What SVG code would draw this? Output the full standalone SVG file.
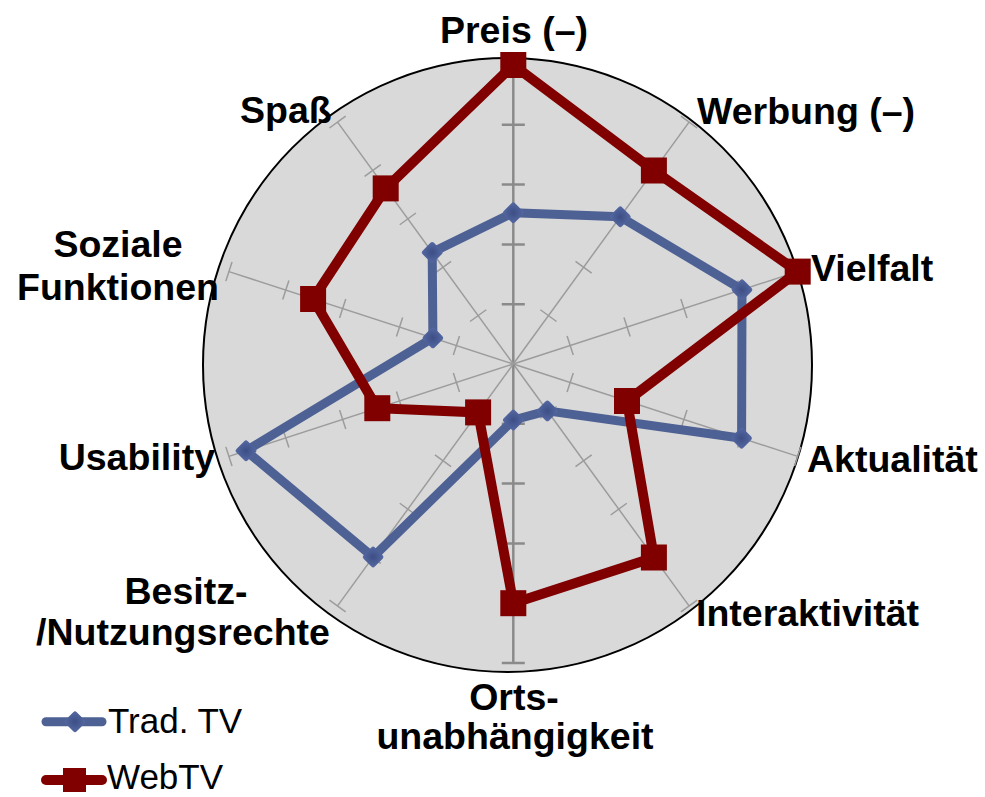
<svg xmlns="http://www.w3.org/2000/svg" xmlns:xlink="http://www.w3.org/1999/xlink" width="985" height="797" viewBox="0 0 985 797">
<style>
.lbl{font-family:"Liberation Sans",Arial,sans-serif;font-weight:bold;font-size:37.5px;fill:#000}
.leg{font-family:"Liberation Sans",Arial,sans-serif;font-size:35px;fill:#000}
.ax{stroke:#9c9c9c;stroke-width:1.5;fill:none}
.vax{stroke:#8a8a8a;stroke-width:2.5;fill:none}
.trad{fill:none;stroke:#4E6194;stroke-width:9;stroke-linejoin:round;stroke-linecap:round}
.web{fill:none;stroke:#800000;stroke-width:10;stroke-linejoin:miter}
</style>
<defs>
<radialGradient id="dg" cx="50%" cy="50%" r="60%">
<stop offset="0" stop-color="#3c4e84"/>
<stop offset="1" stop-color="#5466a0"/>
</radialGradient>
<g id="axis">
<line class="ax" x1="0" y1="0" x2="0" y2="-299"/>
<path class="ax" d="M-10,-59.8H10M-10,-119.6H10M-10,-179.4H10M-10,-239.2H10M-10,-299H10"/>
</g>
<g id="vaxis">
<line class="vax" x1="0" y1="0" x2="0" y2="-299"/>
<path class="vax" d="M-11.5,-59.8H11.5M-11.5,-119.6H11.5M-11.5,-179.4H11.5M-11.5,-239.2H11.5M-11.5,-299H11.5"/>
</g>
<rect id="dia" x="-8" y="-8" width="16" height="16" rx="2.5" transform="rotate(45)" fill="url(#dg)"/>
<rect id="sq" x="-13" y="-13" width="26" height="26" fill="#800000"/>
</defs>

<g id="background">
<ellipse cx="507.5" cy="365" rx="304.5" ry="307" fill="#d9d9d9" stroke="#000" stroke-width="2"/>
</g>

<g id="axes">
<use xlink:href="#vaxis" transform="translate(513.3 364)"/>
<use xlink:href="#axis" transform="translate(513.3 364) rotate(36)"/>
<use xlink:href="#axis" transform="translate(513.3 364) rotate(72)"/>
<use xlink:href="#axis" transform="translate(513.3 364) rotate(108)"/>
<use xlink:href="#axis" transform="translate(513.3 364) rotate(144)"/>
<use xlink:href="#vaxis" transform="translate(513.3 364) rotate(180)"/>
<use xlink:href="#axis" transform="translate(513.3 364) rotate(216)"/>
<use xlink:href="#axis" transform="translate(513.3 364) rotate(252)"/>
<use xlink:href="#axis" transform="translate(513.3 364) rotate(288)"/>
<use xlink:href="#axis" transform="translate(513.3 364) rotate(324)"/>
</g>

<g id="series-trad-tv">
<polygon class="trad" points="513.3,212.7 620.3,216.8 742,289.7 741.6,438.2 547.4,410.9 513.3,420 373.1,557 246,450.8 432.9,337.9 432.2,252.4"/>
<use xlink:href="#dia" x="513.3" y="212.7"/>
<use xlink:href="#dia" x="620.3" y="216.8"/>
<use xlink:href="#dia" x="742" y="289.7"/>
<use xlink:href="#dia" x="741.6" y="438.2"/>
<use xlink:href="#dia" x="547.4" y="410.9"/>
<use xlink:href="#dia" x="513.3" y="420"/>
<use xlink:href="#dia" x="373.1" y="557"/>
<use xlink:href="#dia" x="246" y="450.8"/>
<use xlink:href="#dia" x="432.9" y="337.9"/>
<use xlink:href="#dia" x="432.2" y="252.4"/>
</g>

<g id="series-webtv">
<polygon class="web" points="513.3,65 653.9,170.5 797.7,271.6 627,401 653.9,557.5 513.3,603.2 478.1,412.4 377.3,408.2 313.1,299 385.7,188.4"/>
<use xlink:href="#sq" x="513.3" y="65"/>
<use xlink:href="#sq" x="653.9" y="170.5"/>
<use xlink:href="#sq" x="797.7" y="271.6"/>
<use xlink:href="#sq" x="627" y="401"/>
<use xlink:href="#sq" x="653.9" y="557.5"/>
<use xlink:href="#sq" x="513.3" y="603.2"/>
<use xlink:href="#sq" x="478.1" y="412.4"/>
<use xlink:href="#sq" x="377.3" y="408.2"/>
<use xlink:href="#sq" x="313.1" y="299"/>
<use xlink:href="#sq" x="385.7" y="188.4"/>
</g>

<g id="labels">
<text id="lbl-preis" class="lbl" x="514" y="43" text-anchor="middle">Preis (–)</text>
<text id="lbl-werbung" class="lbl" x="697" y="124">Werbung (–)</text>
<text id="lbl-vielfalt" class="lbl" x="811" y="281">Vielfalt</text>
<text id="lbl-aktualitaet" class="lbl" x="807" y="472">Aktualität</text>
<text id="lbl-interaktivitaet" class="lbl" x="696" y="626">Interaktivität</text>
<text id="lbl-orts" class="lbl" text-anchor="middle"><tspan x="514" y="710">Orts-</tspan><tspan x="515" y="749">unabhängigkeit</tspan></text>
<text id="lbl-besitz" class="lbl" text-anchor="middle"><tspan x="186" y="604">Besitz-</tspan><tspan x="183" y="645">/Nutzungsrechte</tspan></text>
<text id="lbl-usability" class="lbl" x="215" y="470" text-anchor="end">Usability</text>
<text id="lbl-soziale" class="lbl" text-anchor="middle"><tspan x="118" y="257">Soziale</tspan><tspan x="118" y="300">Funktionen</tspan></text>
<text id="lbl-spass" class="lbl" x="240" y="123">Spaß</text>
</g>

<g id="legend">
<line x1="46" y1="721.7" x2="102" y2="721.7" stroke="#4E6194" stroke-width="9" stroke-linecap="round"/>
<use xlink:href="#dia" x="75" y="721.7"/>
<text class="leg" x="108" y="733">Trad. TV</text>
<line x1="46" y1="780" x2="102" y2="780" stroke="#800000" stroke-width="10" stroke-linecap="round"/>
<rect x="63" y="768" width="23" height="24" fill="#800000"/>
<text class="leg" x="107" y="789">WebTV</text>
</g>
</svg>
